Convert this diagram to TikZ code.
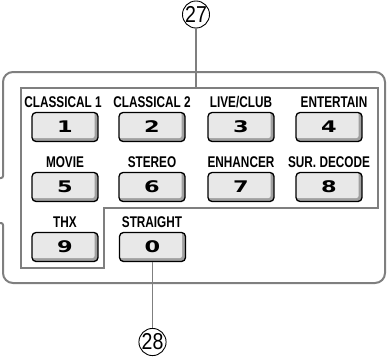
\documentclass[tikz,border=0pt]{standalone}
\usepackage{fontspec}
\newfontfamily\labfont{Liberation Sans}[FakeStretch=0.76]
\newfontfamily\digfont{DejaVu Sans}[FakeStretch=1.4]
\newfontfamily\circfont{Liberation Sans}[FakeStretch=0.85]
\definecolor{framegray}{HTML}{7F7F7F}
\definecolor{btnface}{HTML}{E8E8E8}
\definecolor{btnshade}{HTML}{A0A0A0}
\tikzset{
  frameline/.style={draw=framegray, line width=2pt},
  leader/.style={draw=framegray, line width=1.8pt},
  btn/.style={draw=black, line width=1.3pt, rounded corners=4pt,
    minimum width=66pt, minimum height=29pt, inner sep=0pt,
    font=\digfont\bfseries\fontsize{16}{16}\selectfont,
    path picture={
      \fill[btnshade] (path picture bounding box.south west) rectangle (path picture bounding box.north east);
      \fill[btnface, rounded corners=2pt] ([shift={(-2pt,2pt)}]path picture bounding box.north west) rectangle ([shift={(-3.5pt,3.5pt)}]path picture bounding box.south east);
    }},
  lab/.style={font=\labfont\bfseries\fontsize{15.5}{15.5}\selectfont, inner sep=0pt, anchor=base},
  callout/.style={draw=black, line width=0.9pt, circle, minimum size=27pt, inner sep=0pt,
    font=\circfont\fontsize{23}{23}\selectfont}
}
\begin{document}
\begin{tikzpicture}[x=1pt, y=-1pt]
\useasboundingbox (0,0) rectangle (387,361);
% outer frame
\draw[frameline] (0,178) [rounded corners=2pt] -- (3,178) [rounded corners=10pt] -- (3,72) -- (385,72) -- (385,283) -- (3,283) [rounded corners=2pt] -- (3,223) -- (0,223);
% inner frame
\draw[frameline] (21,88) -- (378,88) -- (378,208) -- (104,208) -- (104,268) -- (21,268) -- cycle;
% callouts
\node[callout] (c27) at (196,14.5) {27};
\node[callout] (c28) at (152.5,342) {28};
\coordinate (ftop) at (196,88);
% buttons
\node[btn] (b1) at (65,127) {1};
\node[btn] (b2) at (152,127) {2};
\node[btn] (b3) at (241,127) {3};
\node[btn] (b4) at (329,127) {4};
\node[btn] (b5) at (65,187) {5};
\node[btn] (b6) at (152,187) {6};
\node[btn] (b7) at (241,187) {7};
\node[btn] (b8) at (329,187) {8};
\node[btn] (b9) at (65,247) {9};
\node[btn] (b0) at (152.5,247) {0};
% leaders
\draw[leader] (c27.south) -- (ftop);
\draw[leader] (b0.south) -- (c28.north);
% labels
\node[lab] (l1) at (63,107.5) {CLASSICAL 1};
\node[lab] (l2) at (152,107.5) {CLASSICAL 2};
\node[lab] (l3) at (241,107.5) {LIVE/CLUB};
\node[lab] (l4) at (334,107.5) {ENTERTAIN};
\node[lab] (l5) at (65,167.5) {MOVIE};
\node[lab] (l6) at (152,167.5) {STEREO};
\node[lab] (l7) at (241,167.5) {ENHANCER};
\node[lab] (l8) at (329,167.5) {SUR. DECODE};
\node[lab] (l9) at (65,227.5) {THX};
\node[lab] (l0) at (152,227.5) {STRAIGHT};
\end{tikzpicture}
\end{document}
